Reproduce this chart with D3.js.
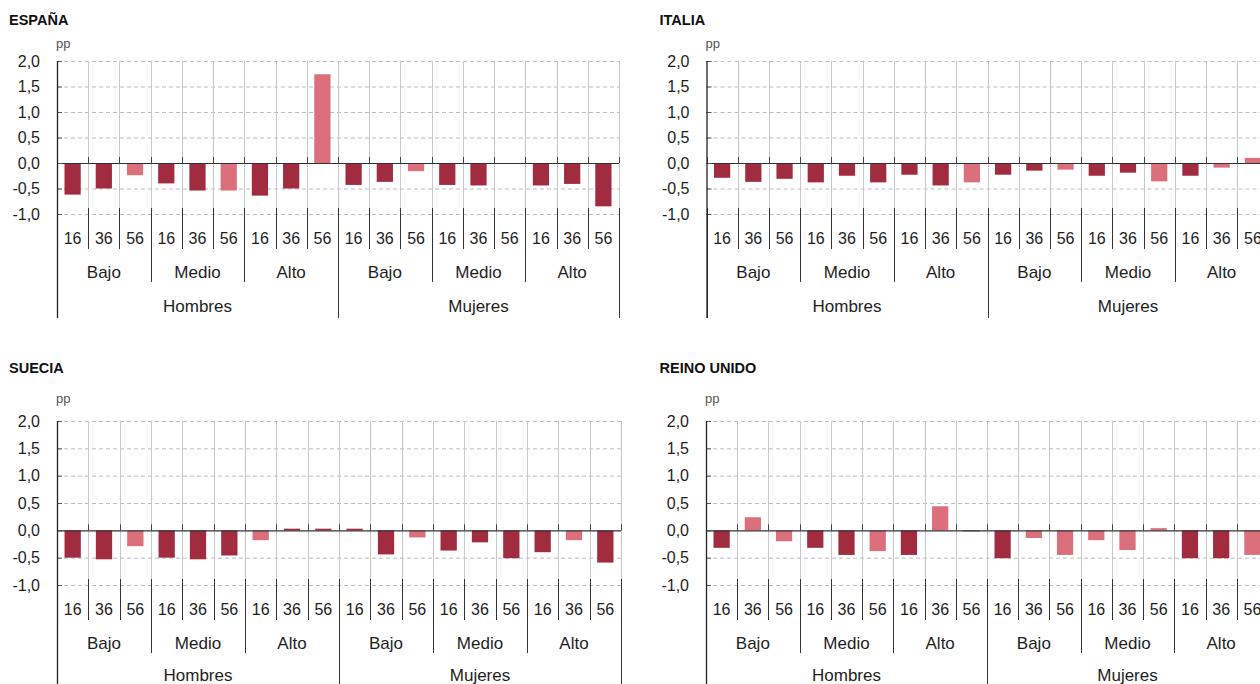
<!DOCTYPE html>
<html>
<head>
<meta charset="utf-8">
<script src="https://cdn.jsdelivr.net/npm/d3@7"></script>
<style>
  html, body { margin: 0; padding: 0; background: #fff; }
  svg { display: block; font-family: "Liberation Sans", Arial, Helvetica, sans-serif; }
</style>
</head>
<body>
<svg id="chart" width="1260" height="684"></svg>
<script>
// ---------- data ----------
const genders = ["Hombres", "Mujeres"];
const levels = ["Bajo", "Medio", "Alto"];
const ages = ["16", "36", "56"];
const yTicks = [-1.0, -0.5, 0.0, 0.5, 1.0, 1.5, 2.0];
const unitLabel = "pp";

// order: Hombres(Bajo 16,36,56; Medio 16,36,56; Alto 16,36,56), Mujeres(...)
const espana    = [-0.62, -0.50, -0.24, -0.40, -0.54, -0.54, -0.64, -0.50, 1.74,
                   -0.43, -0.37, -0.16, -0.43, -0.44, null, -0.44, -0.41, -0.85];
const espanaSig = [1, 1, 0, 1, 1, 0, 1, 1, 0,
                   1, 1, 0, 1, 1, 0, 1, 1, 1];

const italia    = [-0.29, -0.37, -0.31, -0.38, -0.25, -0.38, -0.23, -0.44, -0.38,
                   -0.23, -0.15, -0.13, -0.25, -0.19, -0.36, -0.25, -0.09, 0.10];
const italiaSig = [1, 1, 1, 1, 1, 1, 1, 1, 0,
                   1, 1, 0, 1, 1, 0, 1, 0, 0];

const suecia    = [-0.50, -0.53, -0.29, -0.50, -0.53, -0.46, -0.18, 0.03, 0.03,
                   0.03, -0.44, -0.13, -0.37, -0.22, -0.51, -0.40, -0.18, -0.59];
const sueciaSig = [1, 1, 0, 1, 1, 1, 0, 1, 1,
                   1, 1, 0, 1, 1, 1, 1, 0, 1];

const reino     = [-0.32, 0.24, -0.20, -0.32, -0.45, -0.38, -0.45, 0.44, -0.01,
                   -0.51, -0.14, -0.45, -0.18, -0.36, 0.04, -0.51, -0.51, -0.45];
const reinoSig  = [1, 0, 0, 1, 1, 0, 1, 0, 1,
                   1, 0, 0, 0, 0, 0, 1, 1, 0];

const panelNames = ["ESPAÑA", "ITALIA", "SUECIA", "REINO UNIDO"];

// ---------- styling / layout ----------
const colorSig = "#a12c3f";
const colorNoSig = "#dc6f7c";
const textColor = "#1e1e1e";

const rows = [
  { titleY: 25, ppY: 48, yTop: 61, yBottom: 214, bottom: 318, genY: 97.5 },
  { titleY: 373, ppY: 403, yTop: 421, yBottom: 585, bottom: 690, genY: 96 }
];

const panels = [
  { name: panelNames[0], values: espana, sig: espanaSig, row: rows[0], col: { titleX: 9, x0: 57, w: 562 } },
  { name: panelNames[1], values: italia, sig: italiaSig, row: rows[0], col: { titleX: 659.5, x0: 706.5, w: 562 } },
  { name: panelNames[2], values: suecia, sig: sueciaSig, row: rows[1], col: { titleX: 9, x0: 57, w: 564 } },
  { name: panelNames[3], values: reino, sig: reinoSig, row: rows[1], col: { titleX: 659.5, x0: 706, w: 562 } }
];

const locale = d3.formatLocale({ decimal: ",", thousands: ".", grouping: [3], currency: ["", "€"], minus: "-" });
const fmt = locale.format(".1f");

const keys = d3.cross(genders, d3.cross(levels, ages)).map(([g, [l, a]]) => `${g}|${l}|${a}`);

const svg = d3.select("#chart");
svg.append("rect").attr("width", 1260).attr("height", 684).attr("fill", "#fff");

panels.forEach(p => {
  const { row, col } = p;
  const x0 = col.x0, x1 = col.x0 + col.w;
  const g = svg.append("g");

  const y = d3.scaleLinear().domain([-1, 2]).range([row.yBottom, row.yTop]);
  const xCell = d3.scaleBand().domain(keys).range([x0, x1]);
  const xBar = d3.scaleBand().domain(keys).range([x0, x1]).paddingInner(0.48).paddingOuter(0.24);
  const step = xCell.step();
  const boundaries = d3.range(keys.length + 1).map(i => x0 + i * step);

  // title and unit
  g.append("text").attr("x", col.titleX).attr("y", row.titleY)
    .attr("font-size", 14.5).attr("font-weight", "bold").attr("fill", "#111").text(p.name);
  g.append("text").attr("x", x0 - 1).attr("y", row.ppY)
    .attr("font-size", 13).attr("fill", "#555").text(unitLabel);

  // dashed gridlines
  g.selectAll(".grid").data(yTicks.filter(t => t !== 0)).join("line")
    .attr("x1", x0).attr("x2", x1)
    .attr("y1", d => y(d) + 0.5).attr("y2", d => y(d) + 0.5)
    .attr("stroke", "#bdbdbd").attr("stroke-width", 1).attr("stroke-dasharray", "4,3");

  // light vertical category lines
  g.selectAll(".vgrid").data(boundaries.slice(1)).join("line")
    .attr("x1", d => Math.round(d) + 0.5).attr("x2", d => Math.round(d) + 0.5)
    .attr("y1", row.yTop).attr("y2", row.yBottom - 6)
    .attr("stroke", "#c8c8c8").attr("stroke-width", 1);

  // bars
  const barData = keys.map((k, i) => ({ k, v: p.values[i], s: p.sig[i] })).filter(d => d.v !== null);
  g.selectAll(".bar").data(barData).join("rect")
    .attr("x", d => xBar(d.k))
    .attr("width", xBar.bandwidth())
    .attr("y", d => y(Math.max(0, d.v)))
    .attr("height", d => Math.max(1, Math.abs(y(d.v) - y(0))))
    .attr("fill", d => d.s ? colorSig : colorNoSig);

  // zero line
  g.append("line").attr("x1", x0).attr("x2", x1)
    .attr("y1", y(0) + 0.5).attr("y2", y(0) + 0.5)
    .attr("stroke", "#333").attr("stroke-width", 1.2);

  // ticks on zero line at category boundaries
  g.selectAll(".ztick").data(boundaries).join("line")
    .attr("x1", d => Math.round(d) + 0.5).attr("x2", d => Math.round(d) + 0.5)
    .attr("y1", y(0) - 6).attr("y2", y(0))
    .attr("stroke", "#444").attr("stroke-width", 1);

  // category separators in label area
  g.selectAll(".sep").data(boundaries.map((b, i) => ({ b, i }))).join("line")
    .attr("x1", d => Math.round(d.b) + 0.5).attr("x2", d => Math.round(d.b) + 0.5)
    .attr("y1", row.yBottom - 6)
    .attr("y2", d => d.i % 9 === 0 ? row.bottom : (d.i % 3 === 0 ? row.yBottom + 68 : row.yBottom + 35))
    .attr("stroke", "#333").attr("stroke-width", 1);

  // y axis
  const yAxis = d3.axisLeft(y).tickValues(yTicks).tickFormat(fmt).tickSize(0).tickPadding(17);
  const ya = g.append("g").attr("transform", `translate(${x0},0)`).call(yAxis);
  ya.select(".domain").remove();
  ya.selectAll("text").attr("font-size", 16).attr("fill", textColor)
    .attr("font-family", '"Liberation Sans", Arial, Helvetica, sans-serif');
  // inward ticks
  g.selectAll(".ytick").data(yTicks).join("line")
    .attr("x1", x0).attr("x2", x0 + 5)
    .attr("y1", d => y(d) + 0.5).attr("y2", d => y(d) + 0.5)
    .attr("stroke", "#555").attr("stroke-width", 1);
  // axis line
  g.append("line").attr("x1", x0 + 0.5).attr("x2", x0 + 0.5)
    .attr("y1", row.yTop).attr("y2", row.bottom)
    .attr("stroke", "#222").attr("stroke-width", 1.3);

  // age labels
  g.selectAll(".age").data(keys).join("text")
    .attr("x", d => xCell(d) + step / 2).attr("y", row.yBottom + 29.5)
    .attr("text-anchor", "middle").attr("font-size", 16).attr("fill", textColor)
    .text(d => d.split("|")[2]);

  // level labels
  const levelKeys = d3.cross(genders, levels).map(([gg, l]) => `${gg}|${l}`);
  g.selectAll(".lvl").data(levelKeys).join("text")
    .attr("x", (d, i) => x0 + (i * 3 + 1.5) * step).attr("y", row.yBottom + 63.5)
    .attr("text-anchor", "middle").attr("font-size", 17).attr("fill", textColor)
    .text(d => d.split("|")[1]);

  // gender labels
  g.selectAll(".gen").data(genders).join("text")
    .attr("x", (d, i) => x0 + (i * 9 + 4.5) * step).attr("y", row.yBottom + row.genY)
    .attr("text-anchor", "middle").attr("font-size", 17).attr("fill", textColor)
    .text(d => d);
});
</script>
</body>
</html>
